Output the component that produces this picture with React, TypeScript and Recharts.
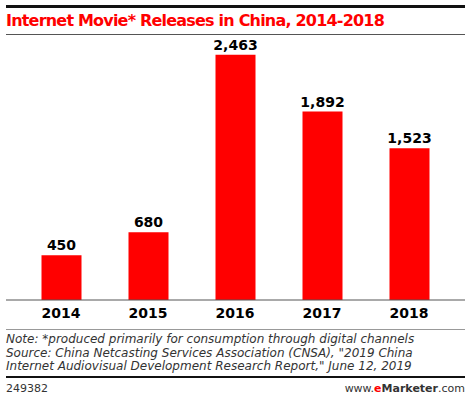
import React from "react";
import { BarChart, Bar, XAxis, YAxis, LabelList } from "recharts";

const years = ["2014", "2015", "2016", "2017", "2018"];
const releases = [450, 680, 2463, 1892, 1523];

const data = years.map((y, i) => ({ year: y, value: releases[i] }));

const fmt = (v: any) => Number(v).toLocaleString("en-US");

export default function App() {
  return (
    <div style={{ position: "absolute", left: 0, top: 0, width: 470, height: 399, background: "#fff", fontFamily: "'DejaVu Sans', Verdana, sans-serif" }}>
      <div style={{ position: "absolute", left: 6, top: 5, width: 459, height: 3, background: "#111" }} />
      <div style={{ position: "absolute", left: 6, top: 11, fontSize: 16, fontWeight: "bold", color: "#ff0000", whiteSpace: "nowrap", letterSpacing: -0.8 }}>
        Internet Movie* Releases in China, 2014-2018
      </div>
      <div style={{ position: "absolute", left: 6, top: 34, width: 459, height: 1, background: "#555" }} />
      <div style={{ position: "absolute", left: 0, top: 0 }}>
        <BarChart width={470} height={399} data={data} margin={{ top: 41, right: 5, bottom: 69, left: 6 }} barCategoryGap={0}>
          <XAxis
            dataKey="year"
            height={30}
            axisLine={{ stroke: "#555", strokeWidth: 1 }}
            tickLine={false}
            padding={{ left: 11.5, right: 12.5 }}
            tick={{ fill: "#000", fontSize: 14, fontWeight: "bold" }}
            interval={0}
          />
          <YAxis hide domain={[0, 2600]} />
          <Bar dataKey="value" fill="#ff0000" barSize={40} isAnimationActive={false}>
            <LabelList dataKey="value" position="top" offset={5} formatter={fmt} style={{ fill: "#000", fontSize: 14, fontWeight: "bold" }} />
          </Bar>
        </BarChart>
      </div>
      <div style={{ position: "absolute", left: 6, top: 329, width: 459, height: 1, background: "#999" }} />
      <div style={{ position: "absolute", left: 6, top: 333, fontSize: 12, fontStyle: "italic", color: "#333", lineHeight: "13.5px", whiteSpace: "nowrap" }}>
        <div>Note: *produced primarily for consumption through digital channels</div>
        <div>Source: China Netcasting Services Association (CNSA), "2019 China</div>
        <div>Internet Audiovisual Development Research Report," June 12, 2019</div>
      </div>
      <div style={{ position: "absolute", left: 6, top: 376, width: 459, height: 2, background: "#111" }} />
      <div style={{ position: "absolute", left: 6, top: 382, fontSize: 11, color: "#333" }}>249382</div>
      <div style={{ position: "absolute", right: 5, top: 382, fontSize: 11, color: "#333" }}>
        www.<span style={{ color: "#ff0000", fontWeight: "bold" }}>e</span><span style={{ fontWeight: "bold" }}>Marketer</span>.com
      </div>
    </div>
  );
}
